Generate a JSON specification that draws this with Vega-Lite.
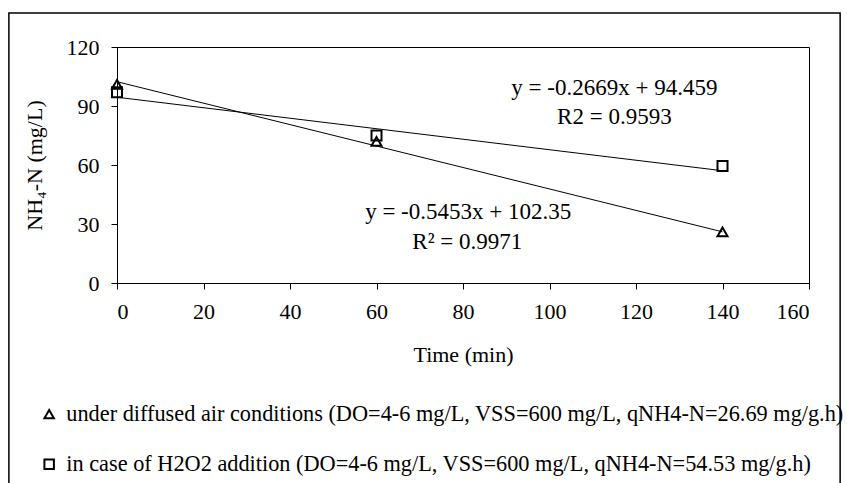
{
  "$schema": "https://vega.github.io/schema/vega-lite/v6.json",
  "width": 692,
  "height": 236,
  "autosize": {"type": "none"},
  "padding": {"left": 117, "top": 47, "right": 38, "bottom": 200},
  "background": "white",
  "config": {
    "font": "Liberation Serif",
    "view": {"stroke": "black", "strokeWidth": 1},
    "axis": {
      "grid": false,
      "domainColor": "black",
      "tickColor": "black",
      "labelColor": "black",
      "titleColor": "black",
      "labelFont": "Liberation Serif",
      "titleFont": "Liberation Serif",
      "labelFontSize": 22,
      "titleFontSize": 22,
      "titleFontWeight": "normal",
      "tickSize": 6
    },
    "legend": {
      "orient": "none",
      "legendX": -79,
      "legendY": 356,
      "padding": 0,
      "labelFont": "Liberation Serif",
      "labelFontSize": 22.3,
      "labelColor": "black",
      "labelLimit": 0,
      "labelOffset": 6,
      "rowPadding": 27,
      "symbolSize": 90,
      "symbolStrokeWidth": 2,
      "symbolStrokeColor": "black",
      "symbolFillColor": "white",
      "title": null
    }
  },
  "datasets": {
    "points": [
      {"series": "under diffused air conditions (DO=4-6 mg/L, VSS=600 mg/L, qNH4-N=26.69 mg/g.h)", "time": 0, "nh4": 101},
      {"series": "under diffused air conditions (DO=4-6 mg/L, VSS=600 mg/L, qNH4-N=26.69 mg/g.h)", "time": 60, "nh4": 72},
      {"series": "under diffused air conditions (DO=4-6 mg/L, VSS=600 mg/L, qNH4-N=26.69 mg/g.h)", "time": 140, "nh4": 26},
      {"series": "in case of H2O2 addition (DO=4-6 mg/L, VSS=600 mg/L, qNH4-N=54.53 mg/g.h)", "time": 0, "nh4": 97},
      {"series": "in case of H2O2 addition (DO=4-6 mg/L, VSS=600 mg/L, qNH4-N=54.53 mg/g.h)", "time": 60, "nh4": 75},
      {"series": "in case of H2O2 addition (DO=4-6 mg/L, VSS=600 mg/L, qNH4-N=54.53 mg/g.h)", "time": 140, "nh4": 59.5}
    ],
    "trend": [
      {"fit": "air", "time": 0, "nh4": 102.35},
      {"fit": "air", "time": 140, "nh4": 26.01},
      {"fit": "h2o2", "time": 0, "nh4": 94.459},
      {"fit": "h2o2", "time": 140, "nh4": 57.09}
    ],
    "labels": [
      {"text": "y = -0.2669x + 94.459", "time": 115, "nh4": 99.3},
      {"text": "R2 = 0.9593", "time": 115, "nh4": 84.6},
      {"text": "y = -0.5453x + 102.35", "time": 81.2, "nh4": 36.1},
      {"text": "R² = 0.9971", "time": 81, "nh4": 21}
    ]
  },
  "layer": [
    {
      "data": {"values": [{}]},
      "mark": {"type": "rect", "fill": null, "stroke": "black", "strokeWidth": 1.5, "clip": false},
      "encoding": {
        "x": {"datum": -25, "type": "quantitative", "scale": {"domain": [0, 160]}, "title": "Time (min)"},
        "x2": {"datum": 167.2},
        "y": {"datum": 137.3, "type": "quantitative", "scale": {"domain": [0, 120]}, "title": "NH₄-N (mg/L)"},
        "y2": {"datum": -120}
      }
    },
    {
      "data": {"name": "trend"},
      "mark": {"type": "line", "color": "black", "strokeWidth": 1},
      "encoding": {
        "x": {"field": "time", "type": "quantitative", "scale": {"domain": [0, 160]}, "title": "Time (min)"},
        "y": {"field": "nh4", "type": "quantitative", "scale": {"domain": [0, 120]}, "title": "NH₄-N (mg/L)"},
        "detail": {"field": "fit"}
      }
    },
    {
      "data": {"name": "points"},
      "mark": {"type": "point", "filled": false, "color": "black", "strokeWidth": 2, "size": 100, "opacity": 1},
      "encoding": {
        "x": {
          "field": "time", "type": "quantitative",
          "scale": {"domain": [0, 160]},
          "axis": {"values": [0, 20, 40, 60, 80, 100, 120, 140, 160], "labelPadding": 12, "titlePadding": 22},
          "title": "Time (min)"
        },
        "y": {
          "field": "nh4", "type": "quantitative",
          "scale": {"domain": [0, 120]},
          "axis": {"values": [0, 30, 60, 90, 120], "labelPadding": 12, "titlePadding": 20},
          "title": "NH₄-N (mg/L)"
        },
        "shape": {
          "field": "series", "type": "nominal",
          "scale": {
            "domain": [
              "under diffused air conditions (DO=4-6 mg/L, VSS=600 mg/L, qNH4-N=26.69 mg/g.h)",
              "in case of H2O2 addition (DO=4-6 mg/L, VSS=600 mg/L, qNH4-N=54.53 mg/g.h)"
            ],
            "range": ["triangle-up", "square"]
          }
        }
      }
    },
    {
      "data": {"name": "labels"},
      "mark": {"type": "text", "align": "center", "baseline": "middle", "fontSize": 23, "font": "Liberation Serif", "color": "black"},
      "encoding": {
        "x": {"field": "time", "type": "quantitative", "scale": {"domain": [0, 160]}, "title": "Time (min)"},
        "y": {"field": "nh4", "type": "quantitative", "scale": {"domain": [0, 120]}, "title": "NH₄-N (mg/L)"},
        "text": {"field": "text"}
      }
    }
  ]
}
